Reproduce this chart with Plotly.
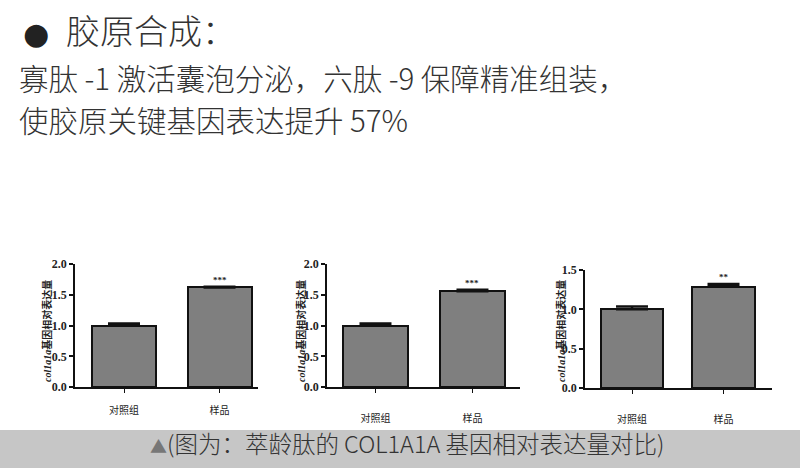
import plotly.graph_objects as go

# ---------------- data ----------------
categories = ["对照组", "样品"]
panel1_values = [1.0, 1.62]
panel1_errors = [0.035, 0.01]
panel2_values = [1.0, 1.56]
panel2_errors = [0.035, 0.025]
panel3_values = [1.0, 1.29]
panel3_errors = [0.035, 0.03]
significance = ["***", "***", "**"]
panel1_yticks = [0.0, 0.5, 1.0, 1.5, 2.0]
panel2_yticks = [0.0, 0.5, 1.0, 1.5, 2.0]
panel3_yticks = [0.0, 0.5, 1.0, 1.5]

heading = "胶原合成："
line2 = "寡肽 -1 激活囊泡分泌，六肽 -9 保障精准组装，"
line3 = "使胶原关键基因表达提升 57%"
caption_icon = "▲"
caption = "(图为：萃龄肽的 COL1A1A 基因相对表达量对比)"
ytitle = "<b><i>col1a1a</i></b><b>基因相对表达量</b>"

W, H = 800, 468
def px(x):
    return x / W
def py(y):
    return (H - y) / H

panels = [
    dict(vals=panel1_values, errs=panel1_errors, yticks=panel1_yticks, yr=[0, 2.0],
         xdom=[px(75), px(258)], ydom=[py(392), py(265)], xr=[-0.513, 1.403],
         width=0.67, standoff=9, ytx=px(47), yty=py(334)),
    dict(vals=panel2_values, errs=panel2_errors, yticks=panel2_yticks, yr=[0, 2.0],
         xdom=[px(327), px(520)], ydom=[py(392), py(265)], xr=[-0.5, 1.49],
         width=0.67, standoff=17, ytx=px(301), yty=py(334)),
    dict(vals=panel3_values, errs=panel3_errors, yticks=panel3_yticks, yr=[0, 1.5],
         xdom=[px(585), px(772)], ydom=[py(393), py(271)], xr=[-0.514, 1.53],
         width=0.68, standoff=17, ytx=px(561), yty=py(334)),
]

fig = go.Figure()
tickfont = dict(family="Liberation Serif, Times New Roman, serif", size=12, color="#222")
catfont = dict(family="Noto Sans CJK SC", size=10, color="#222")

for i, p in enumerate(panels):
    n = "" if i == 0 else str(i + 1)
    fig.add_trace(go.Bar(
        x=[0, 1], y=p["vals"], width=p["width"],
        marker=dict(color="#7f7f7f", line=dict(color="#111", width=2)),
        error_y=dict(type="data", array=p["errs"], arrayminus=[0, 0], symmetric=False,
                     visible=True, color="#111", thickness=2.5, width=16),
        xaxis="x" + n, yaxis="y" + n, showlegend=False, hoverinfo="skip",
    ))
    fig.layout["xaxis" + n] = dict(
        domain=p["xdom"], range=p["xr"], anchor="y" + n,
        tickvals=[0, 1], ticktext=categories, tickfont=catfont,
        showline=True, linecolor="#111", linewidth=1.5,
        ticks="outside", ticklen=4, tickcolor="#111", tickwidth=1,
        ticklabelstandoff=p["standoff"],
        showgrid=False, zeroline=False, fixedrange=True,
    )
    fig.layout["yaxis" + n] = dict(
        domain=p["ydom"], range=p["yr"], anchor="x" + n,
        tickvals=p["yticks"], ticktext=["<b>%.1f</b>" % v for v in p["yticks"]],
        tickfont=tickfont,
        showline=True, linecolor="#111", linewidth=1.5,
        ticks="outside", ticklen=4, tickcolor="#111", tickwidth=1.5,
        showgrid=False, zeroline=False, fixedrange=True,
    )
    fig.add_annotation(
        x=1, y=p["vals"][1] + p["errs"][1], xref="x" + n, yref="y" + n,
        text="<b>" + significance[i] + "</b>", showarrow=False, yanchor="bottom",
        font=dict(family="Liberation Serif", size=9, color="#222"),
    )
    fig.add_annotation(
        x=p["ytx"], y=p["yty"], xref="paper", yref="paper", text=ytitle,
        textangle=-90, showarrow=False, xanchor="center", yanchor="middle",
        font=dict(family="Liberation Serif, Noto Sans CJK SC", size=10, color="#222"),
    )

# headline texts
fig.add_annotation(x=px(36), y=py(27), xref="paper", yref="paper", text="●",
                   showarrow=False, xanchor="center", yanchor="middle",
                   font=dict(family="DejaVu Sans", size=30, color="#222"))
fig.add_annotation(x=px(64), y=py(23), xref="paper", yref="paper", text=heading,
                   showarrow=False, xanchor="left", yanchor="middle",
                   font=dict(family="Noto Sans CJK SC", size=34, color="#333", weight=300))
fig.add_annotation(x=px(17), y=py(72), xref="paper", yref="paper", text=line2,
                   showarrow=False, xanchor="left", yanchor="middle",
                   font=dict(family="Noto Sans CJK SC", size=29.5, color="#333", weight=300))
fig.add_annotation(x=px(17), y=py(115), xref="paper", yref="paper", text=line3,
                   showarrow=False, xanchor="left", yanchor="middle",
                   font=dict(family="Noto Sans CJK SC", size=29.5, color="#333", weight=300))

# caption band
fig.add_shape(type="rect", xref="paper", yref="paper", x0=-0.05, x1=1.05, y0=-0.05,
              y1=py(436), fillcolor="#c6c6c6", line=dict(width=0), layer="below")
fig.add_annotation(x=px(407), y=py(449), xref="paper", yref="paper",
                   text="<span style='color:#777;font-size:17px'>" + caption_icon + "</span>" + caption,
                   showarrow=False, xanchor="center", yanchor="middle",
                   font=dict(family="Noto Sans CJK SC", size=23.5, color="#333", weight=300))

fig.update_layout(
    width=W, height=H, margin=dict(l=0, r=0, t=0, b=0),
    paper_bgcolor="white", plot_bgcolor="white", bargap=0, hovermode=False,
)
# remove the default page margin so the 800x468 figure fills the window exactly
fig.write_html("out.html", config={"displayModeBar": False},
               post_script="document.body.style.margin='0px';")
